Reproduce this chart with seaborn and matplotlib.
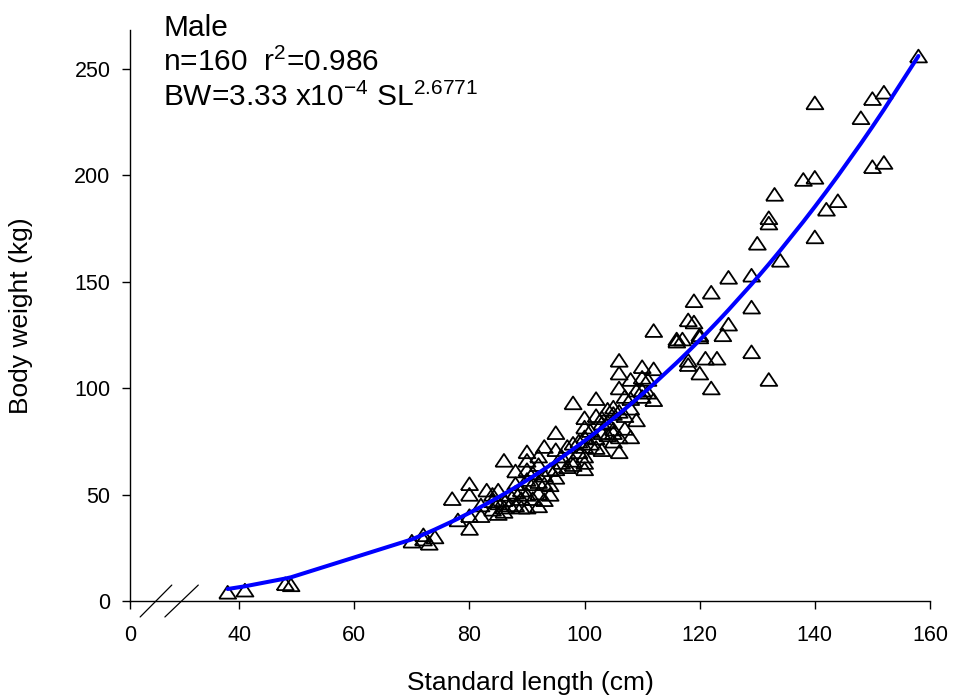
import numpy as np
import pandas as pd
import matplotlib
matplotlib.use("Agg")
import matplotlib.pyplot as plt
import seaborn as sns

#male body weight vs standard length
sl_cm=[38,41,48,49,70,72,73,74,72,77,78,80,80,80,80,82,82,83,84,85,85,86,86,86,86,87,87,88,88,88,88,89,89,
       90,90,90,90,90,90,91,91,92,92,92,92,92,93,93,93,94,94,95,95,95,96,97,98,98,98,99,100,100,100,100,100,100,
       101,102,102,102,103,103,103,104,104,105,105,105,105,106,106,106,106,106,107,107,108,108,108,109,110,110,110,
       111,112,112,112,116,116,117,118,118,118,119,119,120,120,120,121,122,122,123,124,125,125,129,129,129,130,
       132,132,132,133,134,138,140,140,140,142,144,148,150,150,152,152,158,
       84,85,89,91,93,94,95,96,97,98,99,100,101,102,103,104,105,106,107,108,109,110,111,84]
bw_kg=[4,5,8,7.5,28,31,27,30,29,48,38,55,50,40,34,45,40,52,47,52,41,66,47.5,44,42,50,45,61,55,51,45,52,44,
       70,66,61.6,57,50,44,55,48,68,64,56,50.6,44.6,72.5,55,47.5,61.6,54.5,79,71,58,65,72.5,93,74,66,70,86,81.6,77,72.5,68,62,
       74,95,87,76.5,86,83.5,71,90,78,91,80.7,79,75,113,107,100,89,70,87,81,104,90.5,77,99,110,105,99,
       98,127,109,94.5,123,122,123,132,113,111,141,131,125,124,107,114,145,100,114,125,152,130,153,138,117,168,
       180,177.5,104,191,160,198,234,199,171,184,188,227,236,204,239,206,256,
       43,46,48,60,59,50,62,68,63,64,75,65,80,72,79,84,88,77,96,95,85,96,104,50]

#fitted power curve shown on the chart
coef_a=3.33e-4
coef_b=2.6771

df=pd.DataFrame({"SL":sl_cm,"BW":bw_kg})
fit_x=np.array(sorted(set(sl_cm)),dtype=float)
fit_y=coef_a*fit_x**coef_b

sns.set_style("ticks")
plt.rcParams['font.family']=['Liberation Sans','DejaVu Sans']
plt.rcParams['mathtext.fontset']='custom'
plt.rcParams['mathtext.rm']='Liberation Sans'
plt.rcParams['mathtext.it']='Liberation Sans:italic'
plt.rcParams['text.color']='black'
plt.rcParams['axes.labelcolor']='black'

fig=plt.figure(figsize=(9.54,7.0),dpi=100)
ax=fig.add_axes([0.1363,0.1414,0.8385,0.8156])

#x axis is broken between 0 and 40, so 0 sits at a shifted position
zero_pos=40-109/5.75
tri=[(-1,-0.72),(1,-0.72),(0,0.78),(-1,-0.72)]
sns.scatterplot(data=df,x="SL",y="BW",marker=tri,s=150,facecolors='none',
                edgecolors='black',linewidths=1.3,ax=ax,zorder=2,clip_on=False)
sns.lineplot(x=fit_x,y=fit_y,color='#0000ff',linewidth=2.9,ax=ax,zorder=3)

ax.set_xlim(zero_pos,160)
ax.set_ylim(0,268.3)
xt=[zero_pos,40,60,80,100,120,140,160]
ax.set_xticks(xt)
ax.set_xticklabels(['0','40','60','80','100','120','140','160'])
ax.set_yticks([0,50,100,150,200,250])
ax.tick_params(direction='out',length=6,width=1,labelsize=15.5,color='black',labelcolor='black')
ax.tick_params(axis='x',pad=11)
ax.tick_params(axis='y',pad=8)
for s in ['top','right']:
    ax.spines[s].set_visible(False)
for s in ['left','bottom']:
    ax.spines[s].set_color('black')
    ax.spines[s].set_linewidth(1)
ax.set_xlabel("Standard length (cm)",fontsize=19,va='top')
ax.set_ylabel("Body weight (kg)",fontsize=19)
ax.xaxis.set_label_coords(0.5,-0.122)
ax.yaxis.set_label_coords(-0.121,0.5)

#axis break marks
for x0,x1 in [(22.8,28.3),(27.1,32.9)]:
    ax.plot([x0,x1],[-7.5,7.5],color='black',linewidth=0.9,clip_on=False)

fig.text(163/954,1-36/700,"Male",fontsize=21.5,va='baseline')
fig.text(163/954,1-71/700,"n=160  r$^{2}$=0.986",fontsize=21.5,va='baseline')
fig.text(163/954,1-106/700,"BW=3.33 x10$^{-4}$ SL$^{2.6771}$",fontsize=21.5,va='baseline')

plt.savefig("out.png",dpi=100)
